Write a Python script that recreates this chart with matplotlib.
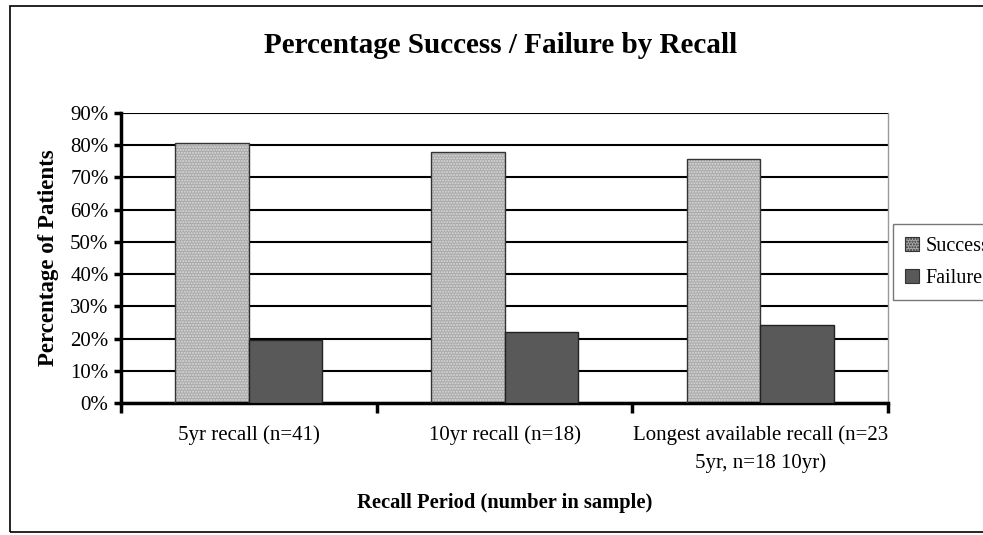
import numpy as np
import matplotlib
matplotlib.use("Agg")
import matplotlib.pyplot as plt
from matplotlib.patches import Rectangle

plt.rcParams["font.family"] = ["Liberation Serif", "DejaVu Serif"]
plt.rcParams["hatch.linewidth"] = 1.0

# ---- data ----
categories = ["5yr recall (n=41)", "10yr recall (n=18)",
              "Longest available recall (n=23\n5yr, n=18 10yr)"]
success = [80.5, 77.8, 75.6]
failure = [19.5, 22.2, 24.4]
series_names = ["Success", "Failure"]
yticks = [0, 10, 20, 30, 40, 50, 60, 70, 80, 90]

fig = plt.figure(figsize=(9.83, 5.35), dpi=100)
ax = fig.add_axes([0.1231, 0.2462, 0.7803, 0.5431])

# outer chart frame
fig.patches.append(Rectangle((10 / 983, 3 / 535), 1.0, 1 - 9 / 535,
                             transform=fig.transFigure, fill=False,
                             edgecolor="black", linewidth=1.2, zorder=0))

x = np.arange(len(categories))
w = 0.287

# success bars: dotted grey
ax.bar(x - w / 2, success, w, color="#a9a9a9", edgecolor="#dcdcdc",
       hatch="......", linewidth=0, zorder=2)
ax.bar(x - w / 2, success, w, fill=False, edgecolor="#333333",
       linewidth=1.0, zorder=3)
ax.bar(x + w / 2, failure, w, color="#595959", edgecolor="#222222",
       linewidth=1.0, zorder=3)

ax.set_xlim(-0.5, len(categories) - 0.5)
ax.set_ylim(0, 90)
ax.set_yticks(yticks)
ax.set_yticklabels([f"{v}%" for v in yticks], fontsize=15)
ax.yaxis.grid(True, color="black", linewidth=1.5, zorder=1)
ax.set_axisbelow(True)

# category labels centred, ticks at category boundaries
ax.set_xticks(x)
ax.set_xticklabels(categories, fontsize=15, linespacing=1.55)
ax.tick_params(axis="x", length=0, pad=16)
ax.set_xticks(np.arange(len(categories) + 1) - 0.5, minor=True)
ax.tick_params(axis="x", which="minor", length=7, width=2.5, direction="out")
ax.tick_params(axis="y", length=5, width=2.5, direction="out", pad=4)

for s in ["left", "bottom"]:
    ax.spines[s].set_linewidth(2.5)
ax.spines["top"].set_visible(False)
ax.spines["right"].set_color("#999999")
ax.spines["right"].set_linewidth(1.0)

ax.set_ylabel("Percentage of Patients", fontsize=16.5, fontweight="bold",
              labelpad=8)
ax.set_xlabel("Recall Period (number in sample)", fontsize=14.8,
              fontweight="bold", labelpad=14)
fig.text(0.509, 0.915, "Percentage Success / Failure by Recall",
         fontsize=21, fontweight="bold", ha="center", va="center")

handles = [Rectangle((0, 0), 1, 1, facecolor="#a9a9a9", edgecolor="#333333",
                     hatch="......", linewidth=0.8),
           Rectangle((0, 0), 1, 1, facecolor="#595959", edgecolor="#333333",
                     linewidth=0.8)]
leg = fig.legend(handles, series_names, loc="center left",
                 bbox_to_anchor=(893 / 983, 0.51), fontsize=14.5,
                 frameon=True, fancybox=False, handlelength=0.7,
                 handleheight=0.7, handletextpad=0.3, borderpad=0.6,
                 borderaxespad=0, labelspacing=0.65)
leg.get_frame().set_edgecolor("#555555")
leg.get_frame().set_linewidth(1.0)

fig.savefig("out.png", dpi=100)
